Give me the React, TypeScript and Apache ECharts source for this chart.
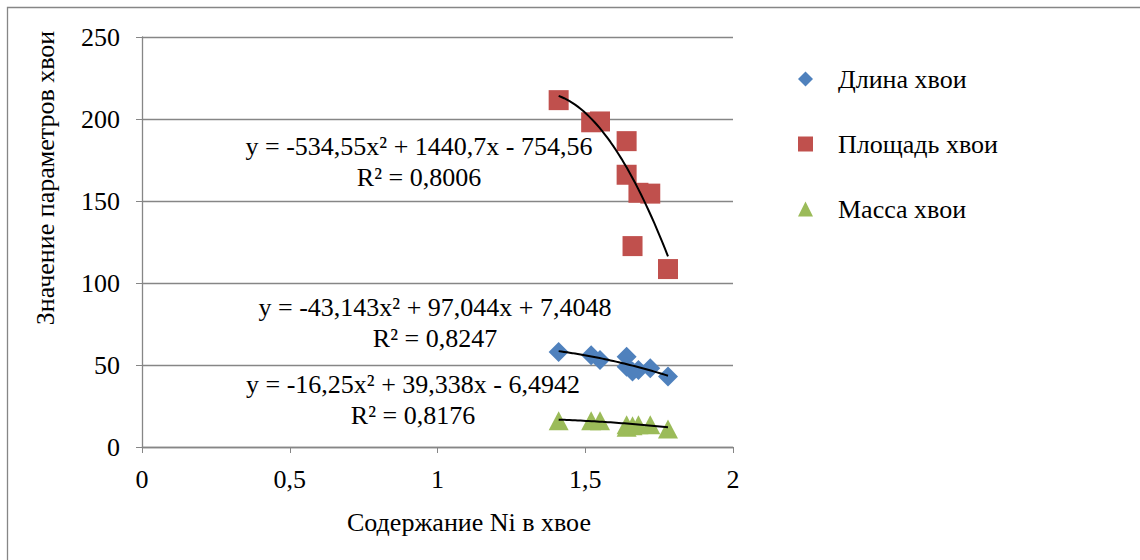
import React, { useEffect, useRef } from "react";
import * as echarts from "echarts";

const nickel = [1.41, 1.52, 1.55, 1.64, 1.64, 1.66, 1.68, 1.72, 1.78];
const needleLength = [58, 56, 53, 55, 49, 46, 47, 48, 43];
const needleArea = [211.5, 198, 198.5, 186.5, 166, 122.5, 155, 154.5, 108.5];
const needleMass = [16, 16, 16, 13.5, 12, 13, 13.5, 13.5, 11];

const seriesNames = ["Длина хвои", "Площадь хвои", "Масса хвои"];
const colors = ["#4F81BD", "#C0504D", "#9BBB59"];

// Displayed polynomial trendline coefficients [a, b, c] for y = a x^2 + b x + c
const trendLength = [-43.143, 97.044, 7.4048];
const trendArea = [-534.55, 1440.7, -754.56];
const trendMass = [-16.25, 39.338, -6.4942];

const eqLength = ["y = -43,143x² + 97,044x + 7,4048", "R² = 0,8247"];
const eqArea = ["y = -534,55x² + 1440,7x - 754,56", "R² = 0,8006"];
const eqMass = ["y = -16,25x² + 39,338x - 6,4942", "R² = 0,8176"];

const xTitle = "Содержание Ni в хвое";
const yTitle = "Значение параметров хвои";

const FONT = "Liberation Serif";
const FS = 26;

function trendPoints(coef: number[]) {
  const lo = Math.min(...nickel);
  const hi = Math.max(...nickel);
  const n = 40;
  const pts: number[][] = [];
  for (let i = 0; i <= n; i++) {
    const x = lo + ((hi - lo) * i) / n;
    pts.push([x, coef[0] * x * x + coef[1] * x + coef[2]]);
  }
  return pts;
}

export default function App() {
  const ref = useRef<HTMLDivElement>(null);
  useEffect(() => {
    if (!ref.current) return;
    const chart = echarts.init(ref.current, undefined, { renderer: "svg" });
    const pair = (ys: number[]) => nickel.map((x, i) => [x, ys[i]]);
    const txt = (t: string, x: number, y: number, rot = 0) => ({
      type: "text",
      x,
      y,
      rotation: rot,
      style: {
        text: t,
        fontFamily: FONT,
        fontSize: FS,
        fill: "#000",
        textAlign: "center",
        textVerticalAlign: "middle",
      },
      z: 10,
    });
    const eqText = (lines: string[], cx: number, y1: number) =>
      lines.map((t, i) => txt(t, cx, y1 + i * 31));
    chart.setOption({
      animation: false,
      backgroundColor: "#fff",
      textStyle: { fontFamily: FONT },
      grid: { left: 142, right: 407, top: 37, bottom: 113 },
      xAxis: {
        type: "value",
        min: 0,
        max: 2,
        interval: 0.5,
        axisLine: { lineStyle: { color: "#868686", width: 1.3 } },
        axisTick: { show: true, inside: false, length: 6, lineStyle: { color: "#868686" } },
        splitLine: { show: false },
        axisLabel: {
          color: "#000",
          fontSize: FS,
          fontFamily: FONT,
          margin: 19,
          formatter: (v: number) => String(v).replace(".", ","),
        },
      },
      yAxis: {
        type: "value",
        min: 0,
        max: 250,
        interval: 50,
        axisLine: { show: true, lineStyle: { color: "#868686", width: 1.3 } },
        axisTick: { show: true, inside: false, length: 6, lineStyle: { color: "#868686" } },
        splitLine: { show: true, lineStyle: { color: "#868686", width: 1.3 } },
        axisLabel: { color: "#000", fontSize: FS, fontFamily: FONT, margin: 22 },
      },
      legend: {
        orient: "vertical",
        left: 793,
        top: 61,
        itemGap: 39,
        itemWidth: 15,
        itemHeight: 15,
        data: seriesNames,
        textStyle: { color: "#000", fontSize: FS, fontFamily: FONT, padding: [0, 0, 0, 20] },
      },
      series: [
        {
          name: seriesNames[0],
          type: "scatter",
          symbol: "diamond",
          symbolSize: 20,
          itemStyle: { color: colors[0], opacity: 1 },
          data: pair(needleLength),
          z: 3,
        },
        {
          name: seriesNames[1],
          type: "scatter",
          symbol: "rect",
          symbolSize: 20,
          itemStyle: { color: colors[1], opacity: 1 },
          data: pair(needleArea),
          z: 3,
        },
        {
          name: seriesNames[2],
          type: "scatter",
          symbol: "triangle",
          symbolSize: [20, 19],
          itemStyle: { color: colors[2], opacity: 1 },
          data: pair(needleMass),
          z: 3,
        },
        ...[trendLength, trendArea, trendMass].map((c) => ({
          type: "line",
          data: trendPoints(c),
          showSymbol: false,
          symbol: "none",
          smooth: false,
          lineStyle: { color: "#000", width: 2 },
          z: 4,
          silent: true,
        })),
      ],
      graphic: [
        {
          type: "rect",
          shape: { x: 7.5, y: 7.5, width: 1300, height: 700 },
          style: { stroke: "#868686", fill: "none", lineWidth: 1.3 },
          silent: true,
          z: -1,
        },
        txt(yTitle, 45, 178, Math.PI / 2),
        txt(xTitle, 469, 522),
        ...eqText(eqArea, 419, 146),
        ...eqText(eqLength, 435, 307),
        ...eqText(eqMass, 413, 384),
      ],
    });
    return () => chart.dispose();
  }, []);
  return (
    <div
      ref={ref}
      style={{ position: "absolute", left: 0, top: 0, width: 1140, height: 560 }}
    />
  );
}
